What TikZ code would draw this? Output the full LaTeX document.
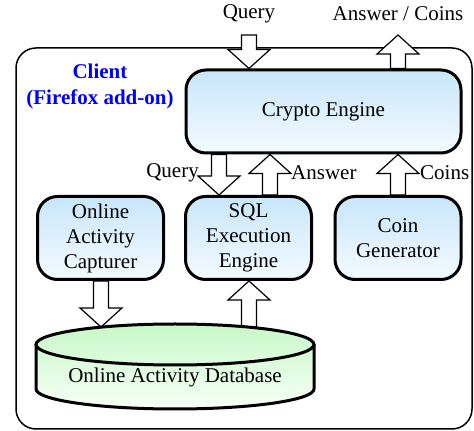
\documentclass[tikz,border=0pt]{standalone}
\usepackage{fontspec}
\setmainfont{Liberation Serif}
\usetikzlibrary{calc,backgrounds}
\definecolor{boxblue}{RGB}{200,230,250}
\definecolor{boxlight}{RGB}{244,250,255}
\definecolor{dbgreen}{RGB}{200,248,200}
\definecolor{dblight}{RGB}{246,255,246}
\tikzset{
  unit/.style={draw, line width=3pt, rounded corners=20pt, top color=boxblue, bottom color=boxlight,
    align=center, minimum width=126pt, minimum height=83pt, inner sep=0pt},
  fatarr/.style={draw, line width=1.2pt, fill=white, line join=miter},
  frame/.style={draw, line width=1.5pt, rounded corners=20pt}
}
\newcommand{\fatarrow}[2]{%
  \path (#1) coordinate (tail) (#2) coordinate (tip);
  \path ($(tip)!19pt!(tail)$) coordinate (hb);
  \draw[fatarr] ($(tail)!7.5pt!90:(tip)$) -- ($(hb)!7.5pt!90:(tip)$) -- ($(hb)!21pt!90:(tip)$) -- (tip)
    -- ($(hb)!21pt!-90:(tip)$) -- ($(hb)!7.5pt!-90:(tip)$) -- ($(tail)!7.5pt!-90:(tip)$) -- cycle;}
\begin{document}
\begin{tikzpicture}[x=1pt, y=1pt, font=\rmfamily\fontsize{21}{25}\selectfont]
  \useasboundingbox (0,0) rectangle (474,431);
  \node[unit, minimum width=275pt] (crypto) at (323.5,319.5) {Crypto Engine};
  \node[unit] (capt) at (100.5,193) {Online\\Activity\\Capturer};
  \node[unit] (sql) at (248.5,193) {SQL\\Execution\\Engine};
  \node[unit] (coin) at (398,193) {Coin\\Generator};
  \fill[top color=dbgreen, bottom color=dblight] (36,86.5) -- (36,42)
    arc[start angle=180, end angle=360, x radius=139, y radius=20] -- (314,86.5)
    arc[start angle=0, end angle=180, x radius=139, y radius=20.5] -- cycle;
  \draw[line width=3pt] (36,86.5) -- (36,42)
    arc[start angle=180, end angle=360, x radius=139, y radius=20] -- (314,86.5);
  \draw[line width=3pt] (175,86.5) ellipse[x radius=139, y radius=20.5];
  \node (db) at (175,54) {Online Activity Database};
  \coordinate (dbl) at (101,104);
  \coordinate (dbr) at (249,104);
  \coordinate (qin) at (249,396);
  \coordinate (aout) at (398,396);
  \coordinate (qd) at (219,0);
  \coordinate (au) at (270,0);
  \node (qtop) at (249,417) {Query};
  \node (atop) at (398,417) {Answer / Coins};
  \node[text=blue, font=\rmfamily\fontsize{21}{26}\selectfont\bfseries, align=center] (client) at (100,345) {Client\\(Firefox add-on)};
  \node[anchor=east, inner sep=0pt] (lq) at (199,258) {Query};
  \node[anchor=west, inner sep=0pt] (la) at (291,258) {Answer};
  \node[anchor=west, inner sep=0pt] (lc) at (420,258) {Coins};
  \begin{pgfonlayer}{background}
    \draw[frame] (16,2) rectangle (472,383);
    \fatarrow{qin}{crypto.north -| qin}
    \fatarrow{crypto.north -| aout}{aout}
    \fatarrow{crypto.south -| qd}{sql.north -| qd}
    \fatarrow{sql.north -| au}{crypto.south -| au}
    \fatarrow{coin.north}{crypto.south -| coin}
    \fatarrow{capt.south -| dbl}{dbl}
    \fatarrow{dbr}{sql.south -| dbr}
  \end{pgfonlayer}
\end{tikzpicture}
\end{document}
